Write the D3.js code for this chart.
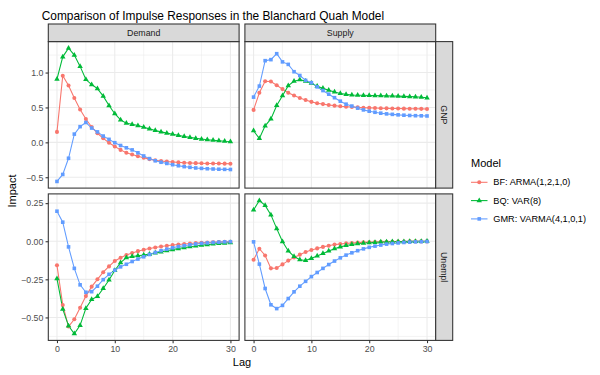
<!DOCTYPE html>
<html>
<head>
<meta charset="utf-8">
<script src="https://cdnjs.cloudflare.com/ajax/libs/d3/7.8.5/d3.min.js"></script>
<style>
  body { margin: 0; background: #fff; }
  svg text { font-family: "Liberation Sans", Arial, Helvetica, sans-serif; }
</style>
</head>
<body>
<svg id="canvas" width="600" height="375"></svg>
<script>
// ************************************************************************************** //
// Data

var lags = [0,1,2,3,4,5,6,7,8,9,10,11,12,13,14,15,16,17,18,19,20,21,22,23,24,25,26,27,28,29,30];
var shocks = ['Demand', 'Supply'];
var variables = ['GNP', 'Unempl'];
var models = ['BF: ARMA(1,2,1,0)', 'BQ: VAR(8)', 'GMR: VARMA(4,1,0,1)'];
var xTicks = [0, 10, 20, 30];
var yTicksGNP = [-0.5, 0, 0.5, 1.0];
var yTicksUnempl = [-0.5, -0.25, 0, 0.25];

var demandGnpBF  = [0.15,0.955,0.815,0.635,0.47,0.335,0.22,0.13,0.058,-0.005,-0.06,-0.108,-0.15,-0.175,-0.198,-0.22,-0.24,-0.256,-0.267,-0.276,-0.282,-0.287,-0.291,-0.295,-0.298,-0.3,-0.302,-0.303,-0.304,-0.305,-0.306];
var demandGnpBQ  = [0.905,1.225,1.348,1.25,1.088,0.9,0.828,0.77,0.662,0.527,0.41,0.322,0.275,0.258,0.24,0.217,0.193,0.17,0.15,0.132,0.116,0.1,0.085,0.071,0.058,0.047,0.038,0.03,0.023,0.016,0.011];
var demandGnpGMR = [-0.56,-0.46,-0.228,0.118,0.225,0.285,0.205,0.15,0.09,0.043,-0.005,-0.045,-0.078,-0.108,-0.15,-0.195,-0.233,-0.264,-0.285,-0.302,-0.32,-0.335,-0.348,-0.358,-0.367,-0.373,-0.378,-0.382,-0.385,-0.387,-0.389];

var supplyGnpBF  = [0.465,0.71,0.875,0.872,0.818,0.763,0.71,0.672,0.635,0.607,0.58,0.56,0.548,0.535,0.526,0.517,0.511,0.506,0.501,0.497,0.494,0.491,0.489,0.487,0.485,0.484,0.483,0.482,0.481,0.48,0.479];
var supplyGnpBQ  = [0.166,0.055,0.237,0.335,0.528,0.668,0.812,0.875,0.897,0.877,0.848,0.805,0.775,0.748,0.722,0.7,0.687,0.679,0.676,0.674,0.672,0.67,0.668,0.666,0.664,0.662,0.659,0.656,0.652,0.646,0.638];
var supplyGnpGMR = [0.648,0.806,1.17,1.185,1.27,1.153,1.117,1.012,0.958,0.888,0.855,0.795,0.742,0.69,0.64,0.59,0.547,0.52,0.49,0.465,0.446,0.431,0.418,0.408,0.401,0.394,0.389,0.385,0.382,0.38,0.378];

var demandUnemplBF  = [-0.158,-0.418,-0.56,-0.512,-0.437,-0.36,-0.298,-0.25,-0.203,-0.165,-0.13,-0.108,-0.09,-0.077,-0.065,-0.056,-0.048,-0.041,-0.035,-0.03,-0.025,-0.021,-0.018,-0.015,-0.012,-0.01,-0.008,-0.006,-0.005,-0.004,-0.003];
var demandUnemplBQ  = [-0.245,-0.445,-0.555,-0.607,-0.552,-0.44,-0.382,-0.362,-0.31,-0.254,-0.192,-0.14,-0.108,-0.1,-0.095,-0.09,-0.084,-0.077,-0.07,-0.062,-0.055,-0.048,-0.042,-0.036,-0.031,-0.026,-0.022,-0.018,-0.015,-0.012,-0.01];
var demandUnemplGMR = [0.197,0.125,-0.037,-0.178,-0.286,-0.335,-0.331,-0.295,-0.252,-0.217,-0.19,-0.168,-0.151,-0.133,-0.117,-0.102,-0.087,-0.074,-0.062,-0.052,-0.043,-0.035,-0.029,-0.023,-0.018,-0.014,-0.011,-0.008,-0.006,-0.004,-0.003];

var supplyUnemplBF  = [-0.122,-0.049,-0.093,-0.178,-0.176,-0.152,-0.127,-0.107,-0.088,-0.07,-0.058,-0.047,-0.037,-0.029,-0.022,-0.018,-0.014,-0.011,-0.009,-0.007,-0.006,-0.005,-0.004,-0.003,-0.003,-0.002,-0.002,-0.001,-0.001,-0.001,-0.001];
var supplyUnemplBQ  = [0.205,0.267,0.235,0.173,0.083,-0.002,-0.064,-0.1,-0.121,-0.126,-0.112,-0.097,-0.08,-0.064,-0.049,-0.037,-0.028,-0.021,-0.016,-0.012,-0.009,-0.007,-0.005,-0.004,-0.003,-0.002,-0.002,-0.001,-0.001,-0.001,0];
var supplyUnemplGMR = [-0.004,-0.15,-0.31,-0.417,-0.442,-0.421,-0.376,-0.332,-0.295,-0.263,-0.232,-0.205,-0.178,-0.153,-0.13,-0.109,-0.091,-0.076,-0.062,-0.05,-0.04,-0.032,-0.025,-0.019,-0.015,-0.011,-0.008,-0.006,-0.004,-0.003,-0.002];

var series = {
  Demand: { GNP: [demandGnpBF, demandGnpBQ, demandGnpGMR], Unempl: [demandUnemplBF, demandUnemplBQ, demandUnemplGMR] },
  Supply: { GNP: [supplyGnpBF, supplyGnpBQ, supplyGnpGMR], Unempl: [supplyUnemplBF, supplyUnemplBQ, supplyUnemplGMR] }
};
var yTicks = { GNP: yTicksGNP, Unempl: yTicksUnempl };

// ************************************************************************************** //
// Layout / style

var colors = ['#F8766D', '#00BA38', '#619CFF'];
var shapes = [d3.symbolCircle, d3.symbolTriangle, d3.symbolSquare];
var left = 48.3, stripTop = 24, stripH = 17.6, stripW = 17;
var panelW = 190.8, panelH = 146.5, gap = 5.8;
var panelTop = stripTop + stripH;

var svg = d3.select('#canvas');

function expand(ext){ var pad = 0.05*(ext[1]-ext[0]); return [ext[0]-pad, ext[1]+pad]; }

var xScale = d3.scaleLinear().domain(expand(d3.extent(lags))).range([0, panelW]);
var yScales = {};
variables.forEach(function(v){
  var all = [];
  shocks.forEach(function(s){ series[s][v].forEach(function(arr){ all = all.concat(arr); }); });
  yScales[v] = d3.scaleLinear().domain(expand(d3.extent(all))).range([panelH, 0]);
});

function minorBreaks(major, domain){
  var step = major[1] - major[0], out = [];
  major.forEach(function(m){ out.push(m - step/2); });
  out.push(major[major.length-1] + step/2);
  return out.filter(function(d){ return d >= domain[0] && d <= domain[1]; });
}

var lineGen = d3.line().x(function(d,i){ return xScale(lags[i]); });

// ************************************************************************************** //
// Title

svg.append('text').attr('x', 41.7).attr('y', 20).style('font-size', '11.9px').style('fill', '#000')
  .text('Comparison of Impulse Responses in the Blanchard Quah Model');

// ************************************************************************************** //
// Panels

variables.forEach(function(v, r){
  var yScale = yScales[v];
  var py = panelTop + r*(panelH + gap);
  shocks.forEach(function(s, c){
    var px = left + c*(panelW + gap);
    var g = svg.append('g').attr('transform', 'translate(' + px + ',' + py + ')');
    g.append('rect').attr('width', panelW).attr('height', panelH).attr('fill', '#fff');

    // minor grid
    minorBreaks(xTicks, xScale.domain()).forEach(function(t){
      g.append('line').attr('x1', xScale(t)).attr('x2', xScale(t)).attr('y1', 0).attr('y2', panelH)
        .attr('stroke', '#EBEBEB').attr('stroke-width', 0.53);
    });
    minorBreaks(yTicks[v], yScale.domain()).forEach(function(t){
      g.append('line').attr('y1', yScale(t)).attr('y2', yScale(t)).attr('x1', 0).attr('x2', panelW)
        .attr('stroke', '#EBEBEB').attr('stroke-width', 0.53);
    });
    // major grid
    xTicks.forEach(function(t){
      g.append('line').attr('x1', xScale(t)).attr('x2', xScale(t)).attr('y1', 0).attr('y2', panelH)
        .attr('stroke', '#EBEBEB').attr('stroke-width', 1.07);
    });
    yTicks[v].forEach(function(t){
      g.append('line').attr('y1', yScale(t)).attr('y2', yScale(t)).attr('x1', 0).attr('x2', panelW)
        .attr('stroke', '#EBEBEB').attr('stroke-width', 1.07);
    });

    lineGen.y(function(d){ return yScale(d); });
    series[s][v].forEach(function(arr, k){
      g.append('path').attr('d', lineGen(arr)).attr('fill', 'none')
        .attr('stroke', colors[k]).attr('stroke-width', 1.07);
    });
    series[s][v].forEach(function(arr, k){
      g.selectAll(null).data(arr).enter().append('path')
        .attr('d', d3.symbol().type(shapes[k]).size(13))
        .attr('transform', function(d,i){ return 'translate(' + xScale(lags[i]) + ',' + yScale(d) + ')'; })
        .attr('fill', colors[k]);
    });

    g.append('rect').attr('width', panelW).attr('height', panelH).attr('fill', 'none')
      .attr('stroke', '#333333').attr('stroke-width', 1.07);

    // y axis on first column
    if (c === 0) {
      var fmt = v === 'GNP' ? d3.format('.1f') : d3.format('.2f');
      var ya = g.append('g').call(d3.axisLeft(yScale).tickValues(yTicks[v]).tickFormat(fmt).tickSize(2.75).tickPadding(2.2));
      styleAxis(ya);
    }
    // x axis on bottom row
    if (r === variables.length - 1) {
      var xa = g.append('g').attr('transform', 'translate(0,' + panelH + ')')
        .call(d3.axisBottom(xScale).tickValues(xTicks).tickSize(2.75).tickPadding(2.2));
      styleAxis(xa);
    }
  });

  // right strip
  var sx = left + 2*panelW + gap;
  var sg = svg.append('g').attr('transform', 'translate(' + sx + ',' + py + ')');
  sg.append('rect').attr('width', stripW).attr('height', panelH).attr('fill', '#D9D9D9')
    .attr('stroke', '#333333').attr('stroke-width', 1.07);
  sg.append('text').attr('transform', 'translate(' + (stripW/2) + ',' + (panelH/2) + ') rotate(90)')
    .attr('text-anchor', 'middle').attr('dy', '0.35em').style('font-size', '8.8px').style('fill', '#1A1A1A').text(v);
});

// top strips
shocks.forEach(function(s, c){
  var px = left + c*(panelW + gap);
  var sg = svg.append('g').attr('transform', 'translate(' + px + ',' + stripTop + ')');
  sg.append('rect').attr('width', panelW).attr('height', stripH).attr('fill', '#D9D9D9')
    .attr('stroke', '#333333').attr('stroke-width', 1.07);
  sg.append('text').attr('x', panelW/2).attr('y', stripH/2).attr('dy', '0.35em').attr('text-anchor', 'middle')
    .style('font-size', '8.8px').style('fill', '#1A1A1A').text(s);
});

function styleAxis(a){
  a.select('.domain').remove();
  a.selectAll('.tick line').attr('stroke', '#333333').attr('stroke-width', 1.07);
  a.selectAll('.tick text').attr('fill', '#4D4D4D').style('font-size', '8.8px')
    .style('font-family', '"Liberation Sans", Arial, Helvetica, sans-serif');
}

// ************************************************************************************** //
// Axis titles

var bottom = panelTop + 2*panelH + gap;
svg.append('text').attr('x', left + panelW + gap/2).attr('y', 366).attr('text-anchor', 'middle')
  .style('font-size', '11px').style('fill', '#000').text('Lag');
svg.append('text').attr('transform', 'translate(15.5,' + ((panelTop + bottom)/2) + ') rotate(-90)')
  .attr('text-anchor', 'middle').style('font-size', '11px').style('fill', '#000').text('Impact');

// ************************************************************************************** //
// Legend

var lg = svg.append('g').attr('transform', 'translate(471,0)');
lg.append('text').attr('x', 0).attr('y', 166.5).style('font-size', '11px').style('fill', '#000').text('Model');
models.forEach(function(m, k){
  var cy = 182.3 + k*18.3;
  lg.append('line').attr('x1', 0).attr('x2', 16.5).attr('y1', cy).attr('y2', cy)
    .attr('stroke', colors[k]).attr('stroke-width', 1.07);
  lg.append('path').attr('d', d3.symbol().type(shapes[k]).size(13))
    .attr('transform', 'translate(8.25,' + cy + ')').attr('fill', colors[k]);
  lg.append('text').attr('x', 22.3).attr('y', cy).attr('dy', '0.33em')
    .style('font-size', '9.2px').style('fill', '#000').text(m);
});
</script>
</body>
</html>
